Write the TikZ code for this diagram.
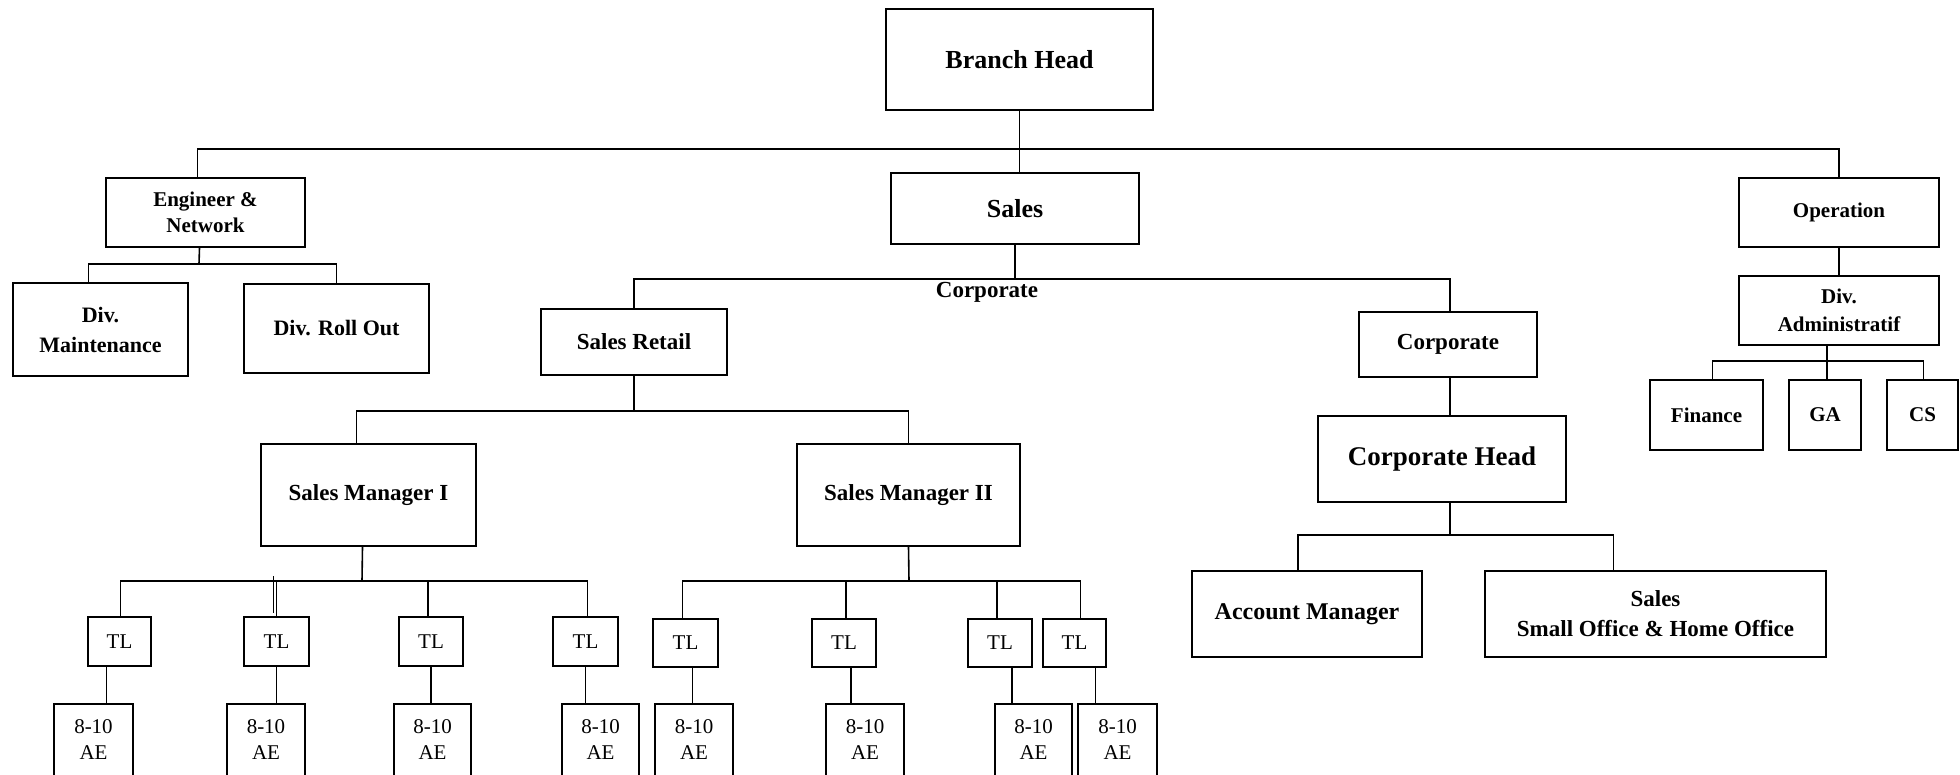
\documentclass[tikz,border=0pt]{standalone}
\usepackage{fontspec}
\setmainfont{Liberation Serif}
\tikzset{
  box/.style={draw, line width=1.8pt, inner sep=0pt, align=center},
  conn/.style={line width=1.6pt},
  fA/.style={font=\fontsize{26}{30}\selectfont\bfseries},
  fB/.style={font=\fontsize{22}{30}\selectfont\bfseries},
  fC/.style={font=\fontsize{23}{30}\selectfont\bfseries},
  fD/.style={font=\fontsize{21}{26}\selectfont\bfseries},
  fR/.style={font=\fontsize{21}{26}\selectfont},
}
\newcommand\onode[7][]{%
  \pgfmathsetmacro\ocx{(#3+#5)/2}%
  \pgfmathsetmacro\ocy{(#4+#6)/2}%
  \pgfmathsetmacro\ow{#5-#3}%
  \pgfmathsetmacro\oh{#6-#4}%
  \node[box,minimum width=\ow pt,minimum height=\oh pt,#1] (#2) at (\ocx,\ocy) {#7};}
\begin{document}
\begin{tikzpicture}[x=1pt,y=-1pt]
\useasboundingbox (0,0) rectangle (1960,774);
\fill[white] (0,0) rectangle (1960,774);
\clip (0,0) rectangle (1960,774);
% level 0/1
\onode[fA]{bh}{886}{9}{1153}{110}{Branch Head}
\onode[fD]{en}{106}{178}{305}{247}{Engineer \&\\Network}
\onode[fA]{sales}{891}{173}{1139}{244}{Sales}
\onode[fD]{op}{1739}{178}{1939}{247}{Operation}
% engineer children
\onode[fB]{dm}{13}{283}{188}{376}{Div.\\Maintenance}
\onode[fB]{dro}{244}{284}{429}{373}{Div. Roll Out}
% sales children
\onode[fC]{sr}{541}{309}{727}{375}{Sales Retail}
\onode[fC]{corp}{1359}{312}{1537}{377}{Corporate}
\onode[font=\fontsize{27}{30}\selectfont\bfseries]{ch}{1318}{416}{1566}{502}{Corporate Head}
\onode[font=\fontsize{24}{30}\selectfont\bfseries]{am}{1192}{571}{1422}{657}{Account Manager}
\onode[fC]{soho}{1485}{571}{1826}{657}{Sales\\Small Office \& Home Office}
% operation children
\onode[font=\fontsize{21}{28}\selectfont\bfseries]{da}{1739}{276}{1939}{345}{Div.\\Administratif}
\onode[fD]{fin}{1650}{380}{1763}{450}{Finance}
\onode[fD]{ga}{1789}{380}{1861}{450}{GA}
\onode[fD]{cs}{1887}{380}{1958}{450}{CS}
% sales managers
\onode[fC]{smi}{261}{444}{476}{546}{Sales Manager I}
\onode[fC]{smii}{797}{444}{1020}{546}{Sales Manager II}
% TL boxes
\onode[fR]{tl1}{88}{617}{151}{666}{TL}
\onode[fR]{tl2}{244}{617}{309}{666}{TL}
\onode[fR]{tl3}{399}{617}{463}{666}{TL}
\onode[fR]{tl4}{553}{617}{618}{666}{TL}
\onode[fR]{tl5}{653}{619}{718}{667}{TL}
\onode[fR]{tl6}{812}{619}{876}{667}{TL}
\onode[fR]{tl7}{968}{619}{1032}{667}{TL}
\onode[fR]{tl8}{1043}{619}{1106}{667}{TL}
% AE boxes
\onode[fR]{ae1}{54}{704}{133}{776}{8-10\\AE}
\onode[fR]{ae2}{227}{704}{305}{776}{8-10\\AE}
\onode[fR]{ae3}{394}{704}{471}{776}{8-10\\AE}
\onode[fR]{ae4}{562}{704}{639}{776}{8-10\\AE}
\onode[fR]{ae5}{655}{704}{733}{776}{8-10\\AE}
\onode[fR]{ae6}{826}{704}{904}{776}{8-10\\AE}
\onode[fR]{ae7}{995}{704}{1072}{776}{8-10\\AE}
\onode[fR]{ae8}{1078}{704}{1157}{776}{8-10\\AE}
% label
\node[fC, inner sep=0pt, anchor=base] (lbl) at (987,297) {Corporate};
% bus coordinates
\coordinate (bus1) at (1018,149);
\coordinate (enbus) at (199,264);
\coordinate (sbus) at (1014,279);
\coordinate (chbus) at (1450,535);
\coordinate (dabus) at (1827,361);
\coordinate (srbus) at (634,411);
\coordinate (smibus) at (362,581);
\coordinate (smiibus) at (909,581);
% connectors
\draw[conn] (bh.south) -- (bh.south |- sales.north);
\draw[conn] ([xshift=-8pt]en.north) |- (bus1) -| (op.north);
\draw[conn] ([xshift=-6pt]en.south) -- (enbus);
\draw[conn] ([xshift=-12pt]dm.north) |- (enbus) -| (dro.north);
\draw[conn] (sales.south) -- (sales.south |- sbus);
\draw[conn] (sr.north) |- (sbus) -| ([xshift=2pt]corp.north);
\draw[conn] ([xshift=2pt]corp.south) -- ([xshift=2pt]corp.south |- ch.north);
\draw[conn] ([xshift=8pt]ch.south) -- (chbus);
\draw[conn] ([xshift=-9pt]am.north) |- (chbus) -| ([xshift=-42pt]soho.north);
\draw[conn] (op.south) -- (da.north);
\draw[conn] ([xshift=-12pt]da.south) -- ([xshift=-12pt]da.south |- ga.north);
\draw[conn] ([xshift=6pt]fin.north) |- (dabus) -| ([xshift=1pt]cs.north);
\draw[conn] (sr.south) -- (srbus);
\draw[conn] ([xshift=-12pt]smi.north) |- (srbus) -| (smii.north);
% SM I team leads
\draw[conn] ([xshift=-6pt]smi.south) -- (smibus);
\draw[conn] ([xshift=1pt]tl1.north) |- (smibus) -| ([xshift=2pt]tl4.north);
\draw[conn] (tl2.north) -- (tl2.north |- smibus);
\draw[conn] ([xshift=-3pt]tl2.north |- smibus) ++(0,-5) -- ([xshift=-3pt,yshift=3pt]tl2.north);
\draw[conn] ([xshift=-3pt]tl3.north) -- ([xshift=-3pt]tl3.north |- smibus);
% SM II team leads
\draw[conn] (smii.south) -- (smiibus);
\draw[conn] ([xshift=-3pt]tl5.north) |- (smiibus) -| ([xshift=6pt]tl8.north);
\draw[conn] ([xshift=2pt]tl6.north) -- ([xshift=2pt]tl6.north |- smiibus);
\draw[conn] ([xshift=-3pt]tl7.north) -- ([xshift=-3pt]tl7.north |- smiibus);
% TL to AE
\draw[conn] ([xshift=-13pt]tl1.south) -- ([xshift=-13pt]tl1.south |- ae1.north);
\draw[conn] (tl2.south) -- (tl2.south |- ae2.north);
\draw[conn] (tl3.south) -- (tl3.south |- ae3.north);
\draw[conn] (tl4.south) -- (tl4.south |- ae4.north);
\draw[conn] ([xshift=7pt]tl5.south) -- ([xshift=7pt]tl5.south |- ae5.north);
\draw[conn] ([xshift=7pt]tl6.south) -- ([xshift=7pt]tl6.south |- ae6.north);
\draw[conn] ([xshift=12pt]tl7.south) -- ([xshift=12pt]tl7.south |- ae7.north);
\draw[conn] ([xshift=21pt]tl8.south) -- ([xshift=21pt]tl8.south |- ae8.north);
\end{tikzpicture}
\end{document}
